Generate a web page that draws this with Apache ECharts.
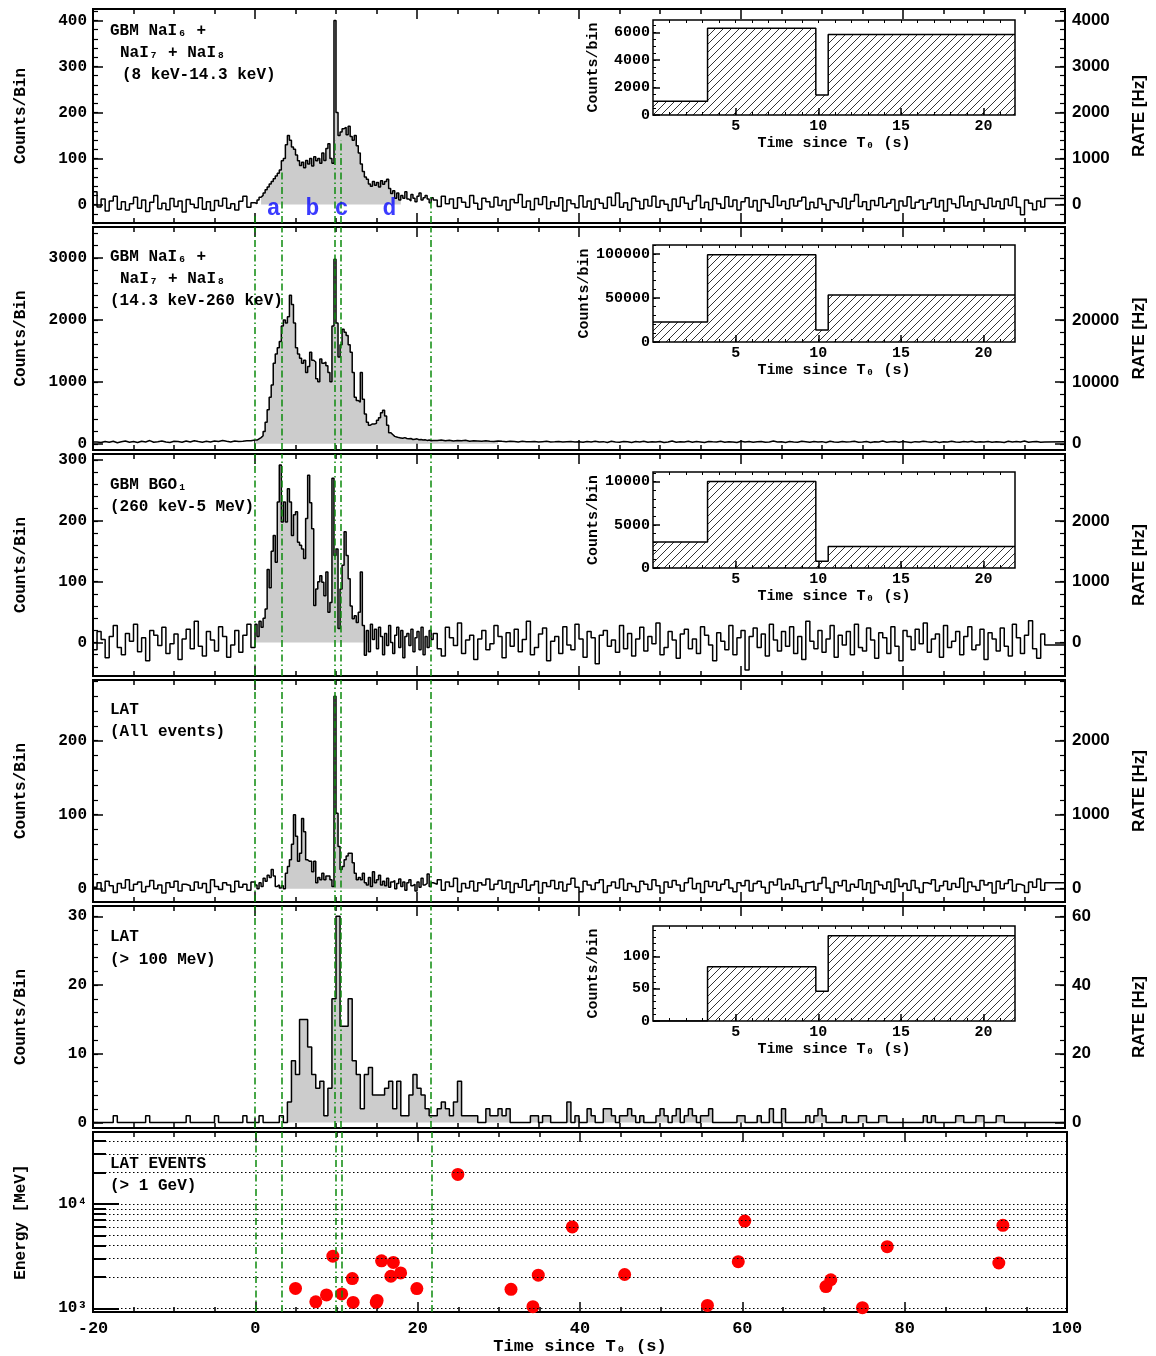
<!DOCTYPE html>
<html>
<head>
<meta charset="utf-8">
<script src="https://cdn.jsdelivr.net/npm/echarts@6/dist/echarts.min.js"></script>
<style>
html, body { margin: 0; padding: 0; background: #fff; }
#chart { width: 1156px; height: 1356px; }
</style>
</head>
<body>
<div id="chart"></div>
<script>
var MONO = '"Liberation Mono", "DejaVu Sans Mono", monospace';
var SANS = '"Liberation Sans", "DejaVu Sans", sans-serif';

// interval boundaries a/b/c/d (s since T0)
var edges = [0, 3.3, 9.85, 10.6, 21.7];
var markerTimes = [2.3, 7.1, 10.7, 16.6];
var markerNames = ['a', 'b', 'c', 'd'];

// light curves: pre = -20..0 s (0.5 s bins), burst = 0..22 s (0.25 s bins), post = 22..100 s (0.5 s bins)
var nai1Pre = [28,-5,12,-14,8,18,-10,6,-12,2,16,-8,10,-15,5,20,-9,3,-11,13,-4,8,-16,11,1,-7,15,-10,6,-13,9,-3,14,-8,2,-12,7,18,-6,4];
var nai1Burst = [2,10,16,20, 25,32,38,45, 50,56,62,68, 75,95,100,130, 150,140,125,120, 108,95,85,92,
  80,96,88,100, 84,104,95,100, 90,112,96,122, 132,100,90,400, 200,150,158,165, 168,152,170,148,
  140,150,128,112, 88,72,60,55, 45,40,50,42, 48,38,52,44, 50,55,35,24, 30,14,25,10, 20,14,28,12,
  8,22,14,6, 18,25,10,15, 20,12,4,15];
var nai1Post = [10,-4,18,2,12,-8,15,5,-6,20, 3,-10,14,6,-5,16,-2,9,-12,11, 4,22,-6,8,-11,13,0,17,-9,6,
  -3,15,-14,10,2,-7,19,-5,8,-10, 12,3,-8,16,-2,25,-6,4,-12,14, 7,-9,11,-3,18,-6,9,1,-13,12,
  -4,16,3,-10,8,20,-7,5,-11,13, 2,-8,17,-4,10,-12,6,15,-5,9, -14,11,3,-6,19,-2,7,-9,12,-3,
  8,16,-10,5,-7,13,1,-12,10,4, -5,14,-9,7,22,-4,6,-11,9,-2, 15,-6,3,11,-13,8,-3,17,-8,5,
  10,-10,4,13,-5,9,-14,12,2,-7, 18,-3,6,-12,10,1,-8,14,-4,7, -9,12,-2,16,-6,-22,10,3,-11,8, -5,13];

var nai2Pre = [30,22,38,25,42,18,32,45,26,36,20,40,30,52,26,35,46,30,22,40,36,25,46,30,50,36,26,42,30,45,36,52,40,30,46,36,42,50,48,62];
var nai2Burst = [60,80,100,130, 200,350,550,750, 950,1300,1450,1550, 1650,1900,2000,1950, 2050,2400,2250,1950,
  1550,1450,1380,1300, 1350,1150,1250,1480, 1350,1320,1050,1000, 1370,1300,1320,1260, 1150,1000,1900,2980,
  1950,1400,1600,1850, 1800,1750,1600,1480, 1150,750,700,670, 1150,720,480,350, 300,320,320,330,
  380,420,500,540, 450,300,180,150, 120,110,100,95, 90,100,85,80, 85,70,75,80, 65,70,60,65, 55,60,50,55];
var nai2Post = [55,60,48,58,45,52,48,56,42,50, 45,40,48,42,38,46,40,35,42,38, 30,40,35,32,38,28,35,40,30,33,
  38,28,32,36,30,34,25,38,30,42, 28,35,22,40,30,26,38,32,20,36, 30,42,25,34,28,38,22,30,45,26,
  33,28,40,24,36,30,20,38,32,28, 42,26,34,30,22,40,28,36,25,32, 38,24,30,46,28,34,20,36,30,26,
  40,32,24,38,28,35,22,42,30,26, 36,28,33,40,25,30,38,22,34,28, 44,26,32,36,24,38,30,20,35,28,
  40,32,26,38,22,34,30,42,28,25, 36,30,40,24,32,28,38,26,34,30, 22,40,28,36,30,45,26,32,38,24, 30,35];

var bgoPre = [-12,18,5,-25,10,28,-8,-20,15,2, 30,-15,8,-30,20,12,-5,25,-18,-2, 14,-28,6,22,-10,35,-6,-22,18,4,
  -14,26,10,-24,-4,20,-16,12,30,-8];
var bgoBurst = [30,10,35,25, 40,55,120,90, 150,176,132,231, 292,198,231,198, 253,231,176,210, 215,165,160,154,
  138,204,275,230, 187,61,88,100, 110,99,77,116, 50,66,270,143, 154,23,88,127, 182,143,105,60,
  39,44,33,50, 116,28,-21,20, -15,30,5,22, -10,25,10,-20, 15,-5,28,0, -18,12,25,-8, 20,-25,10,15,
  -5,22,-15,8, 18,-12,25,-20, 10,-8,20,5];
var bgoPost = [15,-10,-22,25,8,-5,32,-18,4,12, -28,6,20,-12,-2,28,10,-25,16,-6, 22,-15,5,35,-20,-8,14,24,-30,2,
  10,-18,26,-4,-12,30,6,-24,18,8, -35,12,20,-6,4,-16,28,-10,15,-22, 6,25,-14,10,-2,32,-20,-8,18,4,
  -26,14,22,-10,6,-18,26,12,-4,-30, 16,2,-12,28,-20,8,20,-45,10,24, -8,14,-22,30,4,-14,18,-6,26,-18,
  10,-28,35,2,-10,20,-16,6,28,-24, 12,-4,18,-20,30,-8,-14,24,4,-26, 16,8,-18,26,-6,-30,20,10,-12,22,
  -2,32,-16,6,14,-24,28,-8,2,18, -20,10,26,-12,-4,22,-28,16,6,-14, 24,-6,-22,30,8,-18,12,36,-10,-26, 14,-4];

var latPre = [2,8,-3,10,4,-5,7,1,12,-2,6,9,-4,3,11,0,5,-6,8,2,10,-3,6,4,-2,9,1,7,-5,12,3,-1,8,5,-4,10,2,6,-2,9];
var latBurst = [5,0,8,3, 14,10,18,15, 26,17,3,5, 1,4,0,21, 30,39,60,100, 71,37,48,95, 77,39,37,37, 23,37,8,15,
  12,21,12,17, 17,12,3,260, 102,57,26,30, 39,44,48,48, 35,21,12,15, 12,21,8,5, 15,3,23,8, 12,18,5,10,
  4,14,2,9, 11,0,7,13, 3,9,-2,8, 12,4,6,-3, 9,2,14,5, 7,20,3,8];
var latPost = [6,12,-2,9,3,14,-4,7,1,10, -3,8,5,13,-1,6,11,0,9,-5, 7,2,12,-2,5,10,-6,8,3,11,
  0,9,-3,6,14,2,-4,10,5,-1, 8,12,-5,4,9,1,13,-2,7,3, -4,10,6,-1,12,4,-6,9,2,11,
  5,-3,8,14,0,7,-5,10,3,9, -2,6,12,1,-4,8,4,11,-3,7, 10,2,-6,9,5,13,-1,6,0,12,
  3,-4,8,10,-2,7,15,1,-5,9, 4,11,-3,6,2,12,-1,8,-6,10, 5,0,9,-4,13,3,7,-2,11,1,
  -5,8,6,12,-3,4,10,-1,7,2, 14,-4,9,3,-2,11,5,8,-6,10, 0,7,12,-3,6,4,-5,9,2,13, -2,8];

// LAT > 100 MeV, 0.5 s bins from -20 s
var lat100 = [0,0,0,0,0,1,0,0,0,0, 0,0,0,1,0,0,0,0,0,0, 0,0,0,1,0,0,0,0,0,0, 1,0,0,0,0,0,0,1,0,0,
  0,1,0,0,0,0,1,0,3,9, 7,15,15,11,7,5,6,1,5,18, 30,14,14,18,9,7,2,7,8,4, 4,4,5,6,2,6,1,1,4,7,
  5,4,2,1,1,2,3,2,1,3, 6,1,1,1,1,0,0,2,1,1, 2,1,2,0,0,0,0,0,1,1, 0,1,1,0,0,0,0,3,0,1,
  0,0,2,1,0,0,2,2,1,0, 1,1,2,1,0,1,0,0,0,1, 2,1,0,1,2,0,1,2,1,0, 1,1,2,0,0,0,0,0,0,1,
  1,0,0,0,1,0,0,2,0,0, 2,0,0,0,0,0,1,0,1,2, 1,0,0,0,0,1,0,0,0,1, 1,0,0,0,1,1,0,0,0,0,
  0,0,0,0,0,1,0,1,0,0, 0,0,0,1,1,0,0,0,1,1, 0,0,0,1,1,0,0,0,0,0, 0,0,0,0,0,0,0,0,0,0];

// LAT events > 1 GeV
var gevTimes  = [4.95, 7.45, 8.77, 9.55, 10.64, 11.95, 12.05, 14.9, 15.0, 15.55, 17.0, 16.7, 17.9, 19.9, 24.95,
  31.5, 34.2, 34.86, 39.05, 45.5, 55.7, 59.5, 60.3, 70.3, 70.9, 74.8, 77.85, 91.6, 92.1];
var gevEnergy = [1550, 1155, 1345, 3160, 1375, 1930, 1140, 1140, 1190, 2855, 2755, 2030, 2185, 1545, 19200,
  1522, 1037, 2080, 6030, 2110, 1067, 2800, 6860, 1615, 1880, 1015, 3900, 2720, 6250];
var energyGrid = [1000,2000,3000,4000,5000,6000,7000,8000,9000,10000,20000,30000,40000];

// inset counts per interval a, b, c, d
var insetNai1 = [1000, 6300, 1450, 5850];
var insetNai2 = [22700, 99000, 13600, 53400];
var insetBgo  = [3000, 10000, 770, 2500];
var insetLat  = [0, 84, 46, 132];

function tBins(pre, burst, post) {
  var out = [];
  pre.forEach(function (v, i) { out.push([-20 + 0.5 * i, v]); });
  burst.forEach(function (v, i) { out.push([0.25 * i, v]); });
  post.forEach(function (v, i) { out.push([22 + 0.5 * i, v]); });
  out.push([100, post[post.length - 1]]);
  return out;
}
function evenBins(vals) {
  var out = vals.map(function (v, i) { return [-20 + 0.5 * i, v]; });
  out.push([100, vals[vals.length - 1]]);
  return out;
}
function fillPart(data, t0, t1) {
  return data.filter(function (p) { return p[0] >= t0 && p[0] <= t1; })
    .map(function (p) { return [p[0], Math.max(p[1], 0)]; });
}
function steps(lo, hi, st) {
  var a = [];
  for (var v = Math.ceil(lo / st) * st; v <= hi + 1e-9; v += st) a.push(+v.toFixed(6));
  return a;
}
function hatch() {
  var c = document.createElement('canvas');
  c.width = 8; c.height = 8;
  var g = c.getContext('2d');
  g.strokeStyle = '#000'; g.lineWidth = 0.8;
  for (var k = -8; k <= 8; k += 8) { g.beginPath(); g.moveTo(k, 8); g.lineTo(k + 8, 0); g.stroke(); }
  return c;
}
function plain(v) { return String(v); }

var greenLine = { color: '#0c8a0c', width: 1.5, type: [7, 3, 1.5, 3] };

var panels = [
  { top: 9, height: 214, min: -40, max: 425, major: [0,100,200,300,400], minor: 20, rate: 10,
    rateMajor: [0,1000,2000,3000,4000], rateMinor: 200, data: tBins(nai1Pre, nai1Burst, nai1Post), fill: [0.75, 18],
    lineTops: [-18, 75, 140, 140, 18] },
  { top: 227, height: 223, min: -100, max: 3500, major: [0,1000,2000,3000], minor: 200, rate: 10,
    rateMajor: [0,10000,20000], rateMinor: 2000, data: tBins(nai2Pre, nai2Burst, nai2Post), fill: [0, 30] },
  { top: 454, height: 222, min: -55, max: 310, major: [0,100,200,300], minor: 20, rate: 10,
    rateMajor: [0,1000,2000], rateMinor: 200, data: tBins(bgoPre, bgoBurst, bgoPost), fill: [0, 14] },
  { top: 680, height: 222, min: -18, max: 282, major: [0,100,200], minor: 20, rate: 10,
    rateMajor: [0,1000,2000], rateMinor: 200, data: tBins(latPre, latBurst, latPost), fill: [3.25, 16.5] },
  { top: 906, height: 222, min: -0.8, max: 31.5, major: [0,10,20,30], minor: 2, rate: 2,
    rateMajor: [0,20,40,60], rateMinor: 4, data: evenBins(lat100), fill: [4, 92.5] },
  { top: 1132, height: 185, log: true, min: 920, max: 49000, major: [1000, 10000] }
];

var insets = [
  { top: 20, height: 95, vals: insetNai1, max: 6900, major: [0,2000,4000,6000], minor: 500 },
  { top: 245, height: 97, vals: insetNai2, max: 110000, major: [0,50000,100000], minor: 10000 },
  { top: 472, height: 96, vals: insetBgo, max: 11100, major: [0,5000,10000], minor: 1000 },
  { top: 926, height: 95, vals: insetLat, max: 147, major: [0,50,100], minor: 10 }
];

var grids = [], xAxes = [], yAxes = [], series = [];
var tickStyle = { color: '#000', width: 1.5 };
var monoLabel = { fontFamily: MONO, fontWeight: 'bold', fontSize: 16, color: '#000' };

panels.forEach(function (p, k) {
  grids.push({ left: 93, right: 89, top: p.top, height: p.height, show: true,
    borderColor: '#000', borderWidth: 2, backgroundColor: 'transparent' });
  var xb = xAxes.length;
  [['bottom', 5, 5], ['bottom', 20, 10], ['top', 5, 5], ['top', 20, 10]].forEach(function (a, j) {
    var ax = { type: 'value', gridIndex: k, position: a[0], min: -20, max: 100, interval: a[1],
      axisLine: { show: false, onZero: false }, splitLine: { show: false },
      axisTick: { inside: true, length: a[2], lineStyle: tickStyle },
      axisLabel: { show: false } };
    if (k === 5 && j === 1) {
      ax.axisLabel = Object.assign({ show: true, margin: 8, formatter: plain }, monoLabel, { fontSize: 17 });
      ax.name = 'Time since T\u2080 (s)';
      ax.nameLocation = 'middle';
      ax.nameGap = 25;
      ax.nameTextStyle = Object.assign({}, monoLabel, { fontSize: 17 });
    }
    xAxes.push(ax);
  });
  var yb = yAxes.length;
  var minorVals = p.log ? energyGrid : steps(p.min, p.max, p.minor);
  yAxes.push({ type: p.log ? 'log' : 'value', gridIndex: k, position: 'left', min: p.min, max: p.max,
    axisLine: { show: false, onZero: false }, splitLine: { show: false },
    axisTick: { inside: true, length: p.log ? 26 : 10, customValues: p.major, lineStyle: { color: '#000', width: p.log ? 2 : 1.5 } },
    axisLabel: Object.assign({ customValues: p.major, margin: 6,
      formatter: p.log ? function (v) { return v < 5000 ? '10\u00b3' : '10\u2074'; } : plain }, monoLabel),
    name: p.log ? 'Energy [MeV]' : 'Counts/Bin', nameLocation: 'middle', nameRotate: 90, nameGap: 64,
    nameTextStyle: Object.assign({}, monoLabel) });
  yAxes.push({ type: p.log ? 'log' : 'value', gridIndex: k, position: 'left', min: p.min, max: p.max,
    axisLine: { show: false, onZero: false }, splitLine: { show: false },
    axisTick: { inside: true, length: p.log ? 13 : 5, customValues: minorVals, lineStyle: { color: '#000', width: p.log ? 2 : 1.2 } },
    axisLabel: { show: false } });
  if (!p.log) {
    yAxes.push({ type: 'value', gridIndex: k, position: 'right', min: p.min * p.rate, max: p.max * p.rate,
      axisLine: { show: false, onZero: false }, splitLine: { show: false },
      axisTick: { inside: true, length: 10, customValues: p.rateMajor, lineStyle: tickStyle },
      axisLabel: { customValues: p.rateMajor, margin: 7, formatter: plain, fontFamily: SANS, fontWeight: 'bold', fontSize: 17, color: '#000' },
      name: 'RATE [Hz]', nameLocation: 'middle', nameRotate: 90, nameGap: 66,
      nameTextStyle: { fontFamily: SANS, fontWeight: 'bold', fontSize: 17, color: '#000' } });
    yAxes.push({ type: 'value', gridIndex: k, position: 'right', min: p.min * p.rate, max: p.max * p.rate,
      axisLine: { show: false, onZero: false }, splitLine: { show: false },
      axisTick: { inside: true, length: 5, customValues: steps(p.min * p.rate, p.max * p.rate, p.rateMinor), lineStyle: { color: '#000', width: 1.2 } },
      axisLabel: { show: false } });
  }

  var greenData;
  if (p.lineTops) {
    greenData = edges.map(function (t, i) {
      return [{ coord: [t, p.min], lineStyle: greenLine }, { coord: [t, p.lineTops[i]] }];
    });
  } else {
    greenData = edges.map(function (t) { return { xAxis: t, lineStyle: greenLine }; });
  }

  if (!p.log) {
    series.push({ type: 'line', xAxisIndex: xb, yAxisIndex: yb, step: 'end', showSymbol: false, silent: true,
      data: fillPart(p.data, p.fill[0], p.fill[1]), lineStyle: { width: 0 },
      areaStyle: { color: '#cccccc', opacity: 1 }, z: 1 });
    series.push({ type: 'line', xAxisIndex: xb, yAxisIndex: yb, step: 'end', showSymbol: false, silent: true,
      data: p.data, lineStyle: { color: '#000', width: 1.5 }, z: 3,
      markLine: { silent: true, symbol: ['none', 'none'], label: { show: false }, lineStyle: greenLine, data: greenData } });
  } else {
    var gridLines = energyGrid.map(function (e) {
      return { yAxis: e, lineStyle: { color: '#000', width: 1.2, type: [1.5, 2.5] } };
    });
    series.push({ type: 'scatter', xAxisIndex: xb, yAxisIndex: yb, symbolSize: 13, silent: true,
      itemStyle: { color: '#ff0000', opacity: 1 }, z: 4,
      data: gevTimes.map(function (t, i) { return [t, gevEnergy[i]]; }),
      markLine: { silent: true, symbol: ['none', 'none'], label: { show: false }, lineStyle: greenLine,
        data: gridLines.concat(greenData) } });
  }
  if (k === 0) {
    series.push({ type: 'scatter', xAxisIndex: xb, yAxisIndex: yb, symbolSize: 1, silent: true, z: 5,
      itemStyle: { color: 'rgba(0,0,0,0)' },
      data: markerTimes.map(function (t, i) { return { value: [t, -9], name: markerNames[i] }; }),
      label: { show: true, position: 'inside', formatter: '{b}', fontFamily: MONO, fontWeight: 'bold',
        fontSize: 23, color: '#0a0aff' } });
  }
});

var pattern = { image: hatch(), repeat: 'repeat' };
insets.forEach(function (s) {
  var gi = grids.length;
  grids.push({ left: 653, width: 362, top: s.top, height: s.height, show: true,
    borderColor: '#000', borderWidth: 1.5, backgroundColor: '#fff' });
  var xb = xAxes.length;
  xAxes.push({ type: 'value', gridIndex: gi, position: 'bottom', min: 0, max: 21.9,
    axisLine: { show: false, onZero: false }, splitLine: { show: false },
    axisTick: { inside: true, length: 7, customValues: [5, 10, 15, 20], lineStyle: tickStyle },
    axisLabel: Object.assign({ customValues: [5, 10, 15, 20], margin: 4, formatter: plain }, monoLabel, { fontSize: 15 }),
    name: 'Time since T\u2080 (s)', nameLocation: 'middle', nameGap: 21,
    nameTextStyle: Object.assign({}, monoLabel, { fontSize: 15 }) });
  xAxes.push({ type: 'value', gridIndex: gi, position: 'bottom', min: 0, max: 21.9,
    axisLine: { show: false, onZero: false }, splitLine: { show: false },
    axisTick: { inside: true, length: 3, customValues: steps(1, 21, 1), lineStyle: { color: '#000', width: 1 } },
    axisLabel: { show: false } });
  xAxes.push({ type: 'value', gridIndex: gi, position: 'top', min: 0, max: 21.9,
    axisLine: { show: false, onZero: false }, splitLine: { show: false },
    axisTick: { inside: true, length: 3, customValues: steps(1, 21, 1), lineStyle: { color: '#000', width: 1 } },
    axisLabel: { show: false } });
  var yb = yAxes.length;
  yAxes.push({ type: 'value', gridIndex: gi, position: 'left', min: 0, max: s.max,
    axisLine: { show: false, onZero: false }, splitLine: { show: false },
    axisTick: { inside: true, length: 7, customValues: s.major, lineStyle: tickStyle },
    axisLabel: Object.assign({ customValues: s.major, margin: 3, formatter: plain }, monoLabel, { fontSize: 15 }),
    name: 'Counts/bin', nameLocation: 'middle', nameRotate: 90, nameGap: 52,
    nameTextStyle: Object.assign({}, monoLabel, { fontSize: 15 }) });
  yAxes.push({ type: 'value', gridIndex: gi, position: 'left', min: 0, max: s.max,
    axisLine: { show: false, onZero: false }, splitLine: { show: false },
    axisTick: { inside: true, length: 3, customValues: steps(0, s.max, s.minor), lineStyle: { color: '#000', width: 1 } },
    axisLabel: { show: false } });
  var stepData = edges.slice(0, 4).map(function (t, i) { return [t, s.vals[i]]; });
  stepData.push([21.9, s.vals[3]]);
  series.push({ type: 'line', xAxisIndex: xb, yAxisIndex: yb, step: 'end', showSymbol: false, silent: true,
    data: stepData, z: 6, lineStyle: { color: '#000', width: 1.5 },
    areaStyle: { color: pattern, opacity: 1, origin: 'start' } });
});

var textLines = [
  [110, 23, 'GBM NaI\u2086 +'], [120, 45, 'NaI\u2087 + NaI\u2088'], [122, 67, '(8 keV-14.3 keV)'],
  [110, 249, 'GBM NaI\u2086 +'], [120, 271, 'NaI\u2087 + NaI\u2088'], [110, 293, '(14.3 keV-260 keV)'],
  [110, 477, 'GBM BGO\u2081'], [110, 499, '(260 keV-5 MeV)'],
  [110, 702, 'LAT'], [110, 724, '(All events)'],
  [110, 929, 'LAT'], [110, 952, '(> 100 MeV)'],
  [110, 1156, 'LAT EVENTS'], [110, 1178, '(> 1 GeV)']
];
var graphic = textLines.map(function (l) {
  return { type: 'text', left: l[0], top: l[1], z: 10,
    style: { text: l[2], font: 'bold 16px ' + MONO, fill: '#000' } };
});

var chart = echarts.init(document.getElementById('chart'));
chart.setOption({
  animation: false,
  backgroundColor: '#fff',
  grid: grids,
  xAxis: xAxes,
  yAxis: yAxes,
  series: series,
  graphic: graphic
});
</script>
</body>
</html>
